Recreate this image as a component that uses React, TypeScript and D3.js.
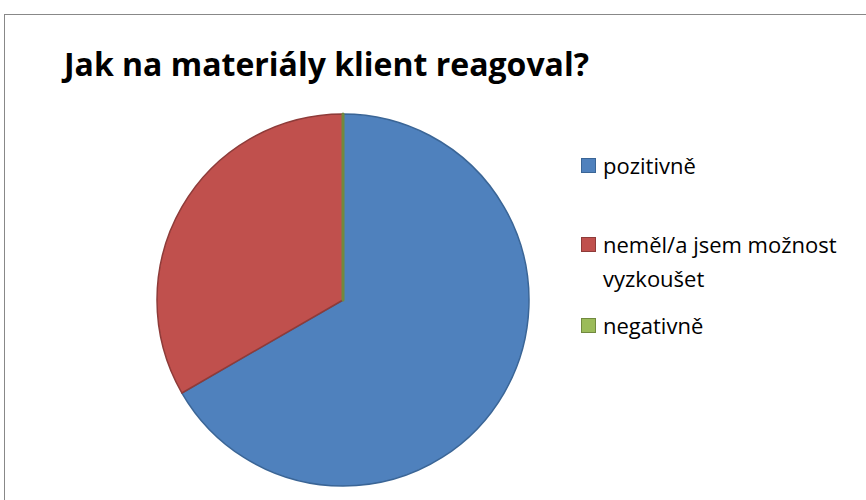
import { useEffect, useRef } from "react";
import * as d3 from "d3";

const categories = ["pozitivně", "neměl/a jsem možnost vyzkoušet", "negativně"];
const legendLines = [["pozitivně"], ["neměl/a jsem možnost", "vyzkoušet"], ["negativně"]];
const values = [2, 1, 0];
const fills = ["#4F81BD", "#C0504D", "#9BBB59"];
const strokes = ["#3A6596", "#8E3B39", "#71893F"];
const title = "Jak na materiály klient reagoval?";

export default function App() {
  const svgRef = useRef<SVGSVGElement>(null);

  useEffect(() => {
    if (!svgRef.current) return;
    const svg = d3.select(svgRef.current);
    svg.selectAll("*").remove();

    const width = 866;
    const height = 500;
    const font = "'Open Sans', 'Liberation Sans', sans-serif";

    // chart frame, runs off the right and bottom edges
    svg
      .append("rect")
      .attr("x", 4.5)
      .attr("y", 14.5)
      .attr("width", width)
      .attr("height", height)
      .attr("fill", "#fff")
      .attr("stroke", "#888")
      .attr("stroke-width", 1);

    svg
      .append("text")
      .attr("x", 64)
      .attr("y", 76)
      .attr("font-family", font)
      .attr("font-weight", "bold")
      .attr("font-size", 32)
      .attr("fill", "#000")
      .text(title);

    // pie
    const cx = 343;
    const cy = 300;
    const r = 186;
    const pie = d3.pie<number>().sort(null).value((d) => d);
    const arc = d3.arc<d3.PieArcDatum<number>>().innerRadius(0).outerRadius(r);
    const g = svg.append("g").attr("transform", `translate(${cx},${cy})`);
    g.selectAll("path")
      .data(pie(values))
      .join("path")
      .attr("d", arc)
      .attr("fill", (d, i) => fills[i])
      .attr("stroke", (d, i) => strokes[i])
      .attr("stroke-width", (d, i) => (values[i] === 0 ? 3 : 1.5))
      .attr("stroke-linejoin", "round");

    // legend
    const legendY = [174, 253, 334];
    const lg = svg.append("g");
    categories.forEach((c, i) => {
      lg.append("rect")
        .attr("x", 581.5)
        .attr("y", legendY[i] - 15.5)
        .attr("width", 14)
        .attr("height", 14)
        .attr("fill", fills[i])
        .attr("stroke", strokes[i])
        .attr("stroke-width", 1);
      const t = lg
        .append("text")
        .attr("x", 603)
        .attr("y", legendY[i])
        .attr("font-family", font)
        .attr("font-size", 22)
        .attr("fill", "#000");
      legendLines[i].forEach((line, j) => {
        t.append("tspan").attr("x", 603).attr("dy", j === 0 ? 0 : 34).text(line);
      });
    });
  }, []);

  return (
    <svg
      ref={svgRef}
      width={866}
      height={500}
      style={{ position: "absolute", left: 0, top: 0, display: "block" }}
    />
  );
}
